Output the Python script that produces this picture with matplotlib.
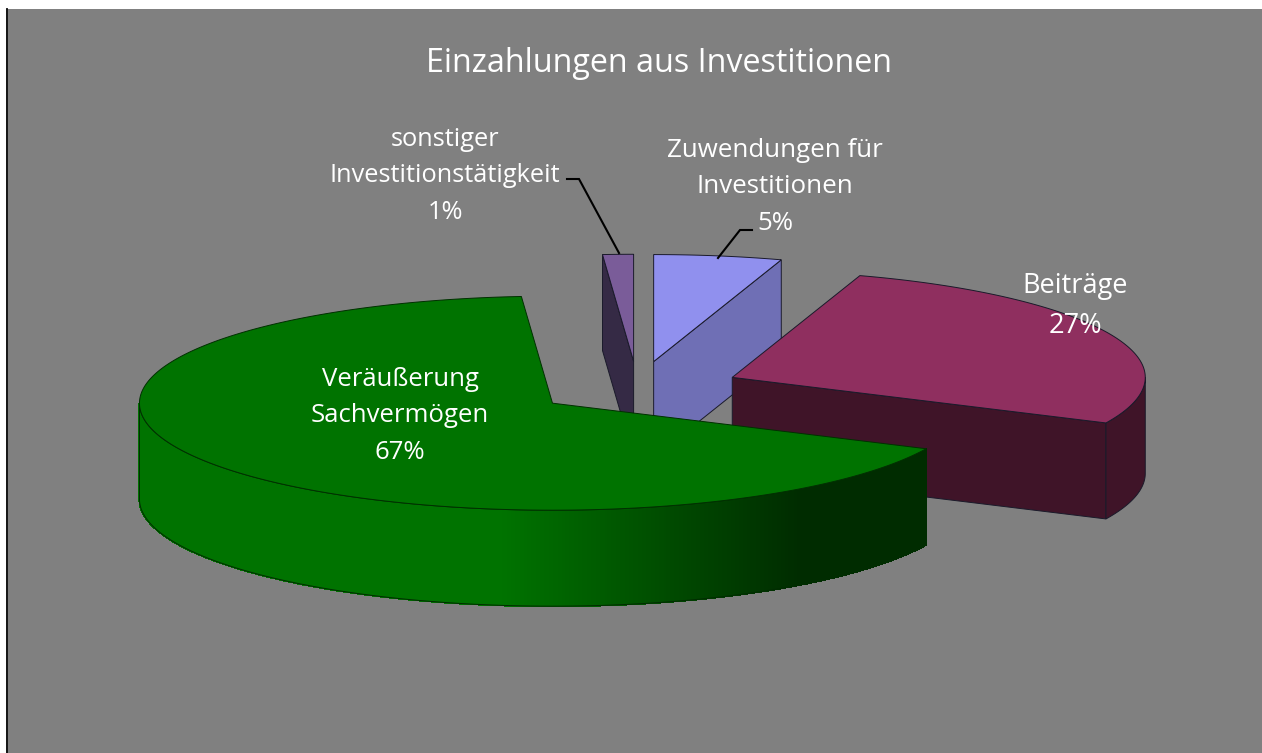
import numpy as np
import matplotlib
matplotlib.use("Agg")
import matplotlib.pyplot as plt
from matplotlib.patches import Polygon
from matplotlib.collections import PolyCollection
from matplotlib.colors import to_rgb

title = "Einzahlungen aus Investitionen"
names = ["Zuwendungen für\nInvestitionen", "Beiträge", "Veräußerung\nSachvermögen", "sonstiger\nInvestitionstätigkeit"]
values = [5.0, 27.0, 66.8, 1.2]
top_colors = ["#9090ee", "#8f2f5f", "#007300", "#7a5c99"]
side_colors = ["#6f6fb5", "#3f1428", "#007300", "#352a45"]
shade_end = "#002c00"
label_xy = [(775, 187), (1075, 306), (400, 416), (445, 176)]
label_size = [18.6, 19.5, 18.5, 18.3]

FONT = "Open Sans"
W, H = 1262, 753
CX, CY, RX, RY, DEPTH, EXPLODE = 637.5, 388.0, 413.0, 107.0, 96.0, 0.25
EDGE = "#1a1a2a"

fig = plt.figure(figsize=(W / 100, H / 100), dpi=100, facecolor="white")
ax = fig.add_axes([8 / W, 0, (W - 8) / W, (H - 9) / H], facecolor="#808080")
ax.set_xlim(8, W)
ax.set_ylim(H, 9)
ax.set_xticks([])
ax.set_yticks([])
for s in ("top", "right", "bottom"):
    ax.spines[s].set_visible(False)
ax.spines["left"].set_color("black")
ax.spines["left"].set_linewidth(1.3)
ax.spines["left"].set_position(("outward", 0.6))


def ell(c, a):
    r = np.radians(a)
    return np.column_stack([c[0] + RX * np.cos(r), c[1] - RY * np.sin(r)])


spans = np.array(values) / sum(values) * 360.0
stops = 90.0 - np.concatenate([[0], np.cumsum(spans)])
drop = np.array([0, DEPTH])

z = 2
# painter's order: sonstiger, Zuwendungen, Beiträge, Veräußerung
for i in (3, 0, 1, 2):
    a0, a1 = stops[i + 1], stops[i]
    mid = np.radians((a0 + a1) / 2)
    c = np.array([CX + EXPLODE * RX * np.cos(mid), CY - EXPLODE * RY * np.sin(mid)])
    top, side = top_colors[i], side_colors[i]

    # cut face on the clockwise side, when it turns towards the viewer
    if -np.cos(np.radians(a0)) < -1e-6:
        rim = ell(c, a0)[0]
        ax.add_patch(Polygon([c, rim, rim + drop, c + drop], closed=True,
                             fc=side, ec=EDGE, lw=0.7, zorder=z))
    # cut face on the counter-clockwise side
    if np.cos(np.radians(a1)) < -1e-6:
        rim = ell(c, a1)[0]
        ax.add_patch(Polygon([c, rim, rim + drop, c + drop], closed=True,
                             fc=side, ec=EDGE, lw=0.7, zorder=z))

    # outer wall: part of the rim on the near side of the ellipse
    b0 = a0 % 360
    b1 = b0 + (a1 - a0)
    for k in (-360, 0, 360):
        lo, hi = max(b0 + k, 180), min(b1 + k, 360)
        if hi <= lo:
            continue
        ang = np.linspace(lo, hi, 500)
        upper = ell(c, ang)
        lower = upper + drop
        outline = np.vstack([upper, lower[::-1]])
        if i == 2:
            rgb0, rgb1 = np.array(to_rgb(side)), np.array(to_rgb(shade_end))
            quads, cols = [], []
            for q in range(len(ang) - 1):
                quads.append([upper[q], upper[q + 1], lower[q + 1], lower[q]])
                u = np.clip((upper[q, 0] - 500) / (800 - 500), 0, 1)
                cols.append(rgb0 + (rgb1 - rgb0) * u)
            ax.add_collection(PolyCollection(quads, facecolors=cols, edgecolors=cols,
                                             linewidths=0.8, antialiaseds=False, zorder=z))
            ax.add_patch(Polygon(outline, closed=True, fc="none", ec="#002c00", lw=0.7, zorder=z))
        else:
            ax.add_patch(Polygon(outline, closed=True, fc=side, ec=EDGE, lw=0.7, zorder=z))

    # top surface
    ang = np.linspace(a0, a1, 500)
    edge = "#003000" if i == 2 else EDGE
    ax.add_patch(Polygon(np.vstack([c, ell(c, ang)]), closed=True,
                         fc=top, ec=edge, lw=0.7, zorder=z + 0.5))
    z += 1

# leader lines
ax.plot([567, 579, 619], [179, 179, 253], color="black", lw=1.5, zorder=20, solid_joinstyle="miter")
ax.plot([752, 740, 718], [230, 230, 258], color="black", lw=1.5, zorder=20, solid_joinstyle="miter")

tk = dict(color="white", ha="center", va="center", family=FONT, zorder=30, multialignment="center")
ax.text(659.5, 64, title, fontsize=23.2, **tk)
for i, n in enumerate(names):
    x, y = label_xy[i]
    ax.text(x, y, f"{n}\n{round(values[i])}%", fontsize=label_size[i], linespacing=1.6, **tk)

fig.savefig("out.png", dpi=100, facecolor="white")
